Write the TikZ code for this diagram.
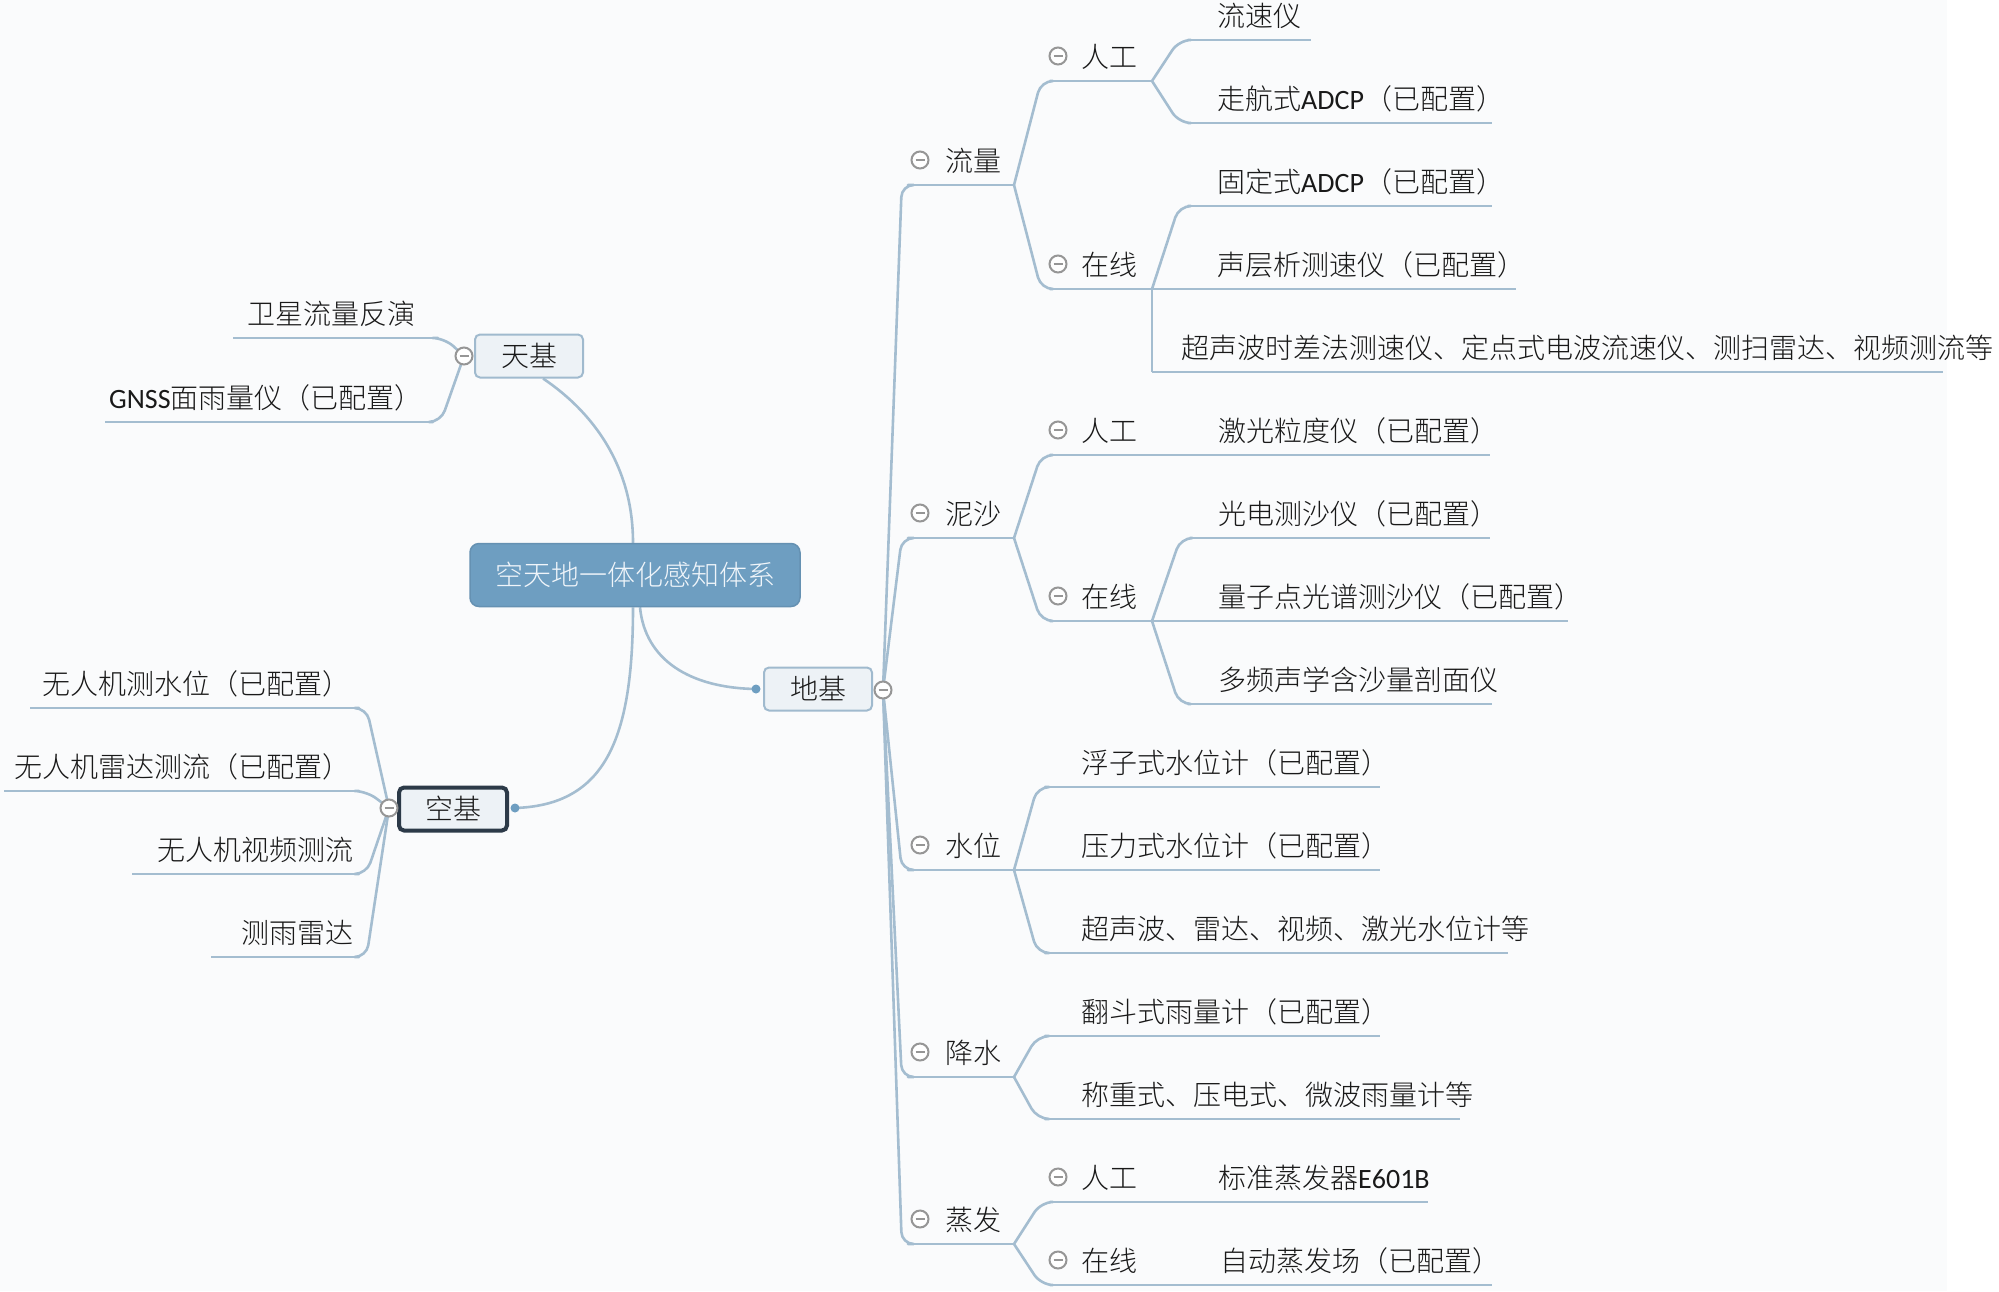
\documentclass[tikz,border=0pt]{standalone}
\usepackage{fontspec}
\setmainfont{Noto Sans CJK SC}[UprightFont={* Light}]
\newfontfamily\lat{Carlito}
\usetikzlibrary{calc}
\definecolor{bgc}{RGB}{250,251,252}
\definecolor{linec}{RGB}{164,189,208}
\definecolor{rootc}{RGB}{110,158,193}
\definecolor{boxfill}{RGB}{237,242,246}
\definecolor{boxdraw}{RGB}{160,186,206}
\definecolor{selc}{RGB}{44,58,72}
\definecolor{foldc}{RGB}{150,150,150}
\definecolor{txtc}{RGB}{25,25,25}
\pgfdeclarelayer{back}
\pgfsetlayers{back,main}
% connector: from parent point to child underline start, elbow with rounded corner
\newcommand\conn[2]{\begin{pgfonlayer}{back}\draw[conline] let \p1=(#1), \p2=(#2) in (\p1) -- ({\x1+0.75*(\x2-\x1)},\y2) -- (\p2);\end{pgfonlayer}}
% leaf topic: name, x start, x end, underline y, text x, text
\newcommand\leaf[6]{%
  \coordinate (#1-s) at (#2,#4); \coordinate (#1-e) at (#3,#4);
  \begin{pgfonlayer}{back}\draw[uline] (#1-s) -- (#1-e);\end{pgfonlayer}
  \node[lbl] (#1) at (#5,#4-14) {#6};}
% folded label topic: name, x start, x end, underline y, fold x, text x, text
\newcommand\flabel[7]{%
  \coordinate (#1-s) at (#2,#4); \coordinate (#1-e) at (#3,#4);
  \begin{pgfonlayer}{back}\draw[uline] (#1-s) -- (#1-e);\end{pgfonlayer}
  \node[fold] (#1-f) at (#5,#4-25) {};
  \node[lbl] (#1) at (#6,#4-14) {#7};}
\begin{document}
\begin{tikzpicture}[x=1pt,y=-1pt,
  conline/.style={draw=linec, line width=2.6pt, rounded corners=12pt, line cap=round},
  uline/.style={draw=linec, line width=2.6pt},
  curveline/.style={draw=linec, line width=2.6pt},
  lbl/.style={anchor=base west, inner sep=0pt, text=txtc, font=\fontsize{28}{34}\selectfont},
  topicbox/.style={draw=boxdraw, fill=boxfill, line width=2pt, rounded corners=5pt,
    minimum width=108pt, minimum height=43pt, inner sep=0pt, text=txtc,
    font=\fontsize{28}{34}\selectfont, text height=23pt, text depth=2pt},
  rootbox/.style={draw=rootc!92!black, fill=rootc, line width=1.5pt, rounded corners=9pt,
    minimum width=330pt, minimum height=63pt, inner sep=0pt, text={rgb,255:red,240;green,245;blue,250},
    font=\fontsize{28}{34}\selectfont, text height=23pt, text depth=2pt},
  fold/.style={circle, draw=foldc, fill=white, line width=2pt, minimum size=17pt, inner sep=0pt,
    path picture={\draw[foldc, line width=2pt] ([xshift=-4.5pt]path picture bounding box.center) -- ([xshift=4.5pt]path picture bounding box.center);}},
  dotc/.style={circle, fill=rootc, minimum size=9pt, inner sep=0pt}
]
\useasboundingbox (0,0) rectangle (1999,1291);
\begin{pgfonlayer}{back}
\fill[bgc] (0,0) rectangle (1999,1291);
\fill[white] (1947,0) rectangle (1999,1291);
\end{pgfonlayer}

% ---------- main boxes ----------
\node[rootbox] (root) at (635,575) {空天地一体化感知体系};
\node[topicbox] (tianji) at (529,356) {天基};
\node[topicbox] (diji) at (818,689) {地基};
\node[topicbox, draw=selc, line width=4pt] (kongji) at (453,809) {空基};
\node[fold] (tjf) at (464,356) {};
\node[fold] (djf) at (883,690) {};
\node[fold] (kjf) at (389,808) {};
\node[dotc] (ddot) at (756,689) {};
\node[dotc] (kdot) at (515,808) {};

\begin{pgfonlayer}{back}
\draw[curveline] ([xshift=-2pt]root.north) .. controls (633,450) and (575,400) .. ([xshift=14pt]tianji.south);
\draw[curveline] ([xshift=-2pt]root.south) .. controls (633,740) and (605,805) .. (kdot.center);
\draw[curveline] ([xshift=5pt]root.south) .. controls (645,660) and (690,688) .. (ddot.center);
\end{pgfonlayer}

% ---------- space-based (left top) ----------
\leaf{wx}{233}{438}{338}{247}{卫星流量反演}
\leaf{gnss}{105}{433}{422}{109}{{\lat GNSS}面雨量仪（已配置）}
\conn{tjf}{wx-e}
\conn{tjf}{gnss-e}

% ---------- air-based (left bottom) ----------
\leaf{k1}{30}{359}{708}{42}{无人机测水位（已配置）}
\leaf{k2}{4}{359}{791}{14}{无人机雷达测流（已配置）}
\leaf{k3}{132}{359}{874}{157}{无人机视频测流}
\leaf{k4}{211}{359}{957}{241}{测雨雷达}
\conn{kjf}{k1-e}
\conn{kjf}{k2-e}
\conn{kjf}{k3-e}
\conn{kjf}{k4-e}

% ---------- ground-based: level 1 ----------
\flabel{ll}{908}{1014}{185}{920}{945}{流量}
\flabel{ns}{908}{1014}{538}{920}{945}{泥沙}
\flabel{sw}{908}{1014}{870}{920}{945}{水位}
\flabel{js}{908}{1014}{1077}{920}{945}{降水}
\flabel{zf}{908}{1014}{1244}{920}{945}{蒸发}
\conn{djf}{ll-s}
\conn{djf}{ns-s}
\conn{djf}{sw-s}
\conn{djf}{js-s}
\conn{djf}{zf-s}

% ---------- 流量 ----------
\flabel{llr}{1050}{1152}{81}{1058}{1081}{人工}
\flabel{llz}{1050}{1152}{289}{1058}{1081}{在线}
\conn{ll-e}{llr-s}
\conn{ll-e}{llz-s}
\leaf{lsy}{1188}{1311}{40}{1217}{流速仪}
\leaf{zhs}{1188}{1492}{123}{1217}{走航式{\lat ADCP}（已配置）}
\conn{llr-e}{lsy-s}
\conn{llr-e}{zhs-s}
\leaf{gds}{1188}{1492}{206}{1217}{固定式{\lat ADCP}（已配置）}
\leaf{scx}{1152}{1516}{289}{1217}{声层析测速仪（已配置）}
\leaf{csb}{1152}{1943}{372}{1181}{超声波时差法测速仪、定点式电波流速仪、测扫雷达、视频测流等}
\conn{llz-e}{gds-s}
\begin{pgfonlayer}{back}\draw[uline] (llz-e) -- (csb-s);\end{pgfonlayer}

% ---------- 泥沙 ----------
\flabel{nsr}{1050}{1152}{455}{1058}{1081}{人工}
\flabel{nsz}{1050}{1152}{621}{1058}{1081}{在线}
\conn{ns-e}{nsr-s}
\conn{ns-e}{nsz-s}
\leaf{jg}{1152}{1490}{455}{1218}{激光粒度仪（已配置）}
\leaf{gd}{1190}{1490}{538}{1218}{光电测沙仪（已配置）}
\leaf{lzd}{1152}{1568}{621}{1218}{量子点光谱测沙仪（已配置）}
\leaf{dp}{1188}{1492}{704}{1218}{多频声学含沙量剖面仪}
\conn{nsz-e}{gd-s}
\conn{nsz-e}{dp-s}

% ---------- 水位 ----------
\leaf{fz}{1045}{1380}{787}{1081}{浮子式水位计（已配置）}
\leaf{yl}{1014}{1380}{870}{1081}{压力式水位计（已配置）}
\leaf{csw}{1045}{1508}{953}{1081}{超声波、雷达、视频、激光水位计等}
\conn{sw-e}{fz-s}
\conn{sw-e}{csw-s}

% ---------- 降水 ----------
\leaf{fd}{1045}{1380}{1036}{1081}{翻斗式雨量计（已配置）}
\leaf{czs}{1045}{1460}{1119}{1081}{称重式、压电式、微波雨量计等}
\conn{js-e}{fd-s}
\conn{js-e}{czs-s}

% ---------- 蒸发 ----------
\flabel{zfr}{1050}{1152}{1202}{1058}{1081}{人工}
\flabel{zfz}{1050}{1152}{1285}{1058}{1081}{在线}
\conn{zf-e}{zfr-s}
\conn{zf-e}{zfz-s}
\leaf{bz}{1152}{1428}{1202}{1218}{标准蒸发器{\lat E601B}}
\leaf{zd}{1152}{1492}{1285}{1220}{自动蒸发场（已配置）}
\end{tikzpicture}
\end{document}
